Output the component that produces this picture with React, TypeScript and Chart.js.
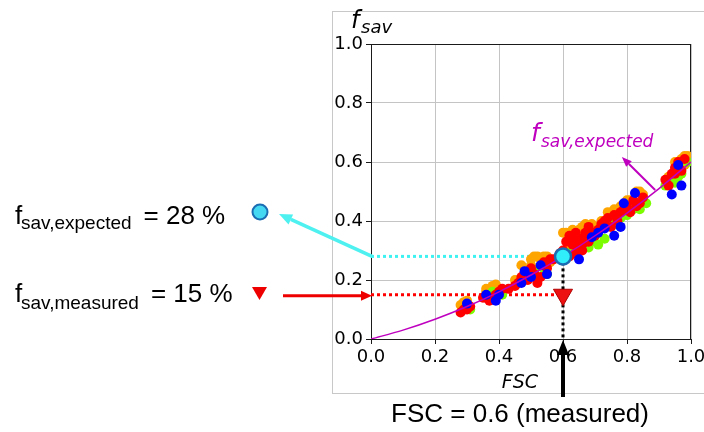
import React, { useEffect, useRef } from "react";
import { Chart, registerables } from "chart.js";

Chart.register(...registerables);

// ---- Data ----
const curveFSC = [0, 0.1, 0.2, 0.3, 0.4, 0.5, 0.6, 0.7, 0.8, 0.9, 1.0];
const curveFsav = [0, 0.03, 0.067, 0.11, 0.16, 0.217, 0.28, 0.35, 0.427, 0.51, 0.6];

const orangeFSC = [0.28, 0.29, 0.30, 0.36, 0.38, 0.39, 0.37, 0.47, 0.50, 0.52, 0.54, 0.49, 0.56, 0.45, 0.61, 0.63, 0.66, 0.69, 0.70, 0.64, 0.62, 0.74, 0.76, 0.83, 0.85, 0.80, 0.97, 0.99, 0.96, 0.93, 0.98,
  0.50, 0.51, 0.53, 0.55, 0.60, 0.65, 0.67, 0.68, 0.72, 0.75, 0.78, 0.81, 0.84, 0.95, 0.98, 0.36, 0.29];
const orangeFsav = [0.115, 0.125, 0.13, 0.17, 0.18, 0.185, 0.16, 0.25, 0.27, 0.28, 0.28, 0.23, 0.26, 0.20, 0.36, 0.37, 0.38, 0.39, 0.38, 0.33, 0.31, 0.43, 0.44, 0.50, 0.49, 0.47, 0.61, 0.62, 0.58, 0.55, 0.59,
  0.25, 0.28, 0.27, 0.28, 0.36, 0.37, 0.39, 0.37, 0.40, 0.42, 0.45, 0.47, 0.50, 0.60, 0.62, 0.16, 0.11];

const redFSC = [0.28, 0.29, 0.31, 0.35, 0.38, 0.40, 0.41, 0.37, 0.45, 0.47, 0.49, 0.51, 0.53, 0.55, 0.56, 0.52, 0.43, 0.46, 0.60, 0.61, 0.62, 0.63, 0.64, 0.65, 0.66, 0.67, 0.68, 0.69, 0.70, 0.62, 0.64, 0.66, 0.68, 0.73, 0.74, 0.75, 0.76, 0.77, 0.78, 0.80, 0.82, 0.84, 0.81, 0.85, 0.94, 0.95, 0.96, 0.97, 0.93, 0.92, 0.98,
  0.48, 0.50, 0.54, 0.57, 0.59, 0.63, 0.65, 0.67, 0.71, 0.72, 0.79, 0.83, 0.96, 0.95, 0.39, 0.36, 0.30];
const redFsav = [0.09, 0.10, 0.11, 0.14, 0.14, 0.16, 0.17, 0.13, 0.18, 0.21, 0.20, 0.22, 0.21, 0.24, 0.27, 0.19, 0.17, 0.19, 0.30, 0.33, 0.35, 0.32, 0.36, 0.34, 0.30, 0.36, 0.33, 0.36, 0.35, 0.28, 0.29, 0.32, 0.38, 0.40, 0.41, 0.38, 0.42, 0.40, 0.43, 0.45, 0.47, 0.46, 0.43, 0.48, 0.56, 0.58, 0.60, 0.57, 0.52, 0.54, 0.61,
  0.22, 0.24, 0.26, 0.27, 0.29, 0.35, 0.32, 0.33, 0.37, 0.39, 0.44, 0.45, 0.58, 0.56, 0.15, 0.14, 0.10];

const blueFSC = [0.30, 0.36, 0.39, 0.40, 0.48, 0.50, 0.53, 0.47, 0.65, 0.69, 0.73, 0.76, 0.78, 0.79, 0.825, 0.94, 0.96, 0.97, 0.55, 0.71];
const blueFsav = [0.12, 0.15, 0.13, 0.15, 0.23, 0.21, 0.25, 0.19, 0.27, 0.345, 0.375, 0.35, 0.38, 0.46, 0.495, 0.49, 0.59, 0.52, 0.22, 0.36];

const greenFSC = [0.29, 0.31, 0.38, 0.41, 0.48, 0.51, 0.54, 0.55, 0.63, 0.65, 0.71, 0.68, 0.73, 0.76, 0.78, 0.82, 0.84, 0.86, 0.96, 0.95, 0.92, 0.99, 0.61, 0.69, 0.80, 0.97];
const greenFsav = [0.10, 0.10, 0.16, 0.15, 0.20, 0.23, 0.24, 0.22, 0.30, 0.31, 0.32, 0.31, 0.34, 0.39, 0.41, 0.44, 0.44, 0.46, 0.55, 0.53, 0.52, 0.60, 0.29, 0.33, 0.42, 0.56];

const measuredFSC = 0.6;
const expectedFsav = 0.28;
const measuredFsav = 0.15;

const tickValues = [0, 0.2, 0.4, 0.6, 0.8, 1.0];

const pts = (xs: number[], ys: number[]) => xs.map((x, i) => ({ x, y: ys[i] }));

function drawArrow(ctx: CanvasRenderingContext2D, x1: number, y1: number, x2: number, y2: number, color: string, lw: number, headLen: number, headW: number) {
  const ang = Math.atan2(y2 - y1, x2 - x1);
  const bx = x2 - headLen * Math.cos(ang);
  const by = y2 - headLen * Math.sin(ang);
  ctx.save();
  ctx.strokeStyle = color;
  ctx.lineWidth = lw;
  ctx.lineCap = "butt";
  ctx.beginPath();
  ctx.moveTo(x1, y1);
  ctx.lineTo(bx, by);
  ctx.stroke();
  ctx.fillStyle = color;
  ctx.beginPath();
  ctx.moveTo(x2, y2);
  ctx.lineTo(bx + (headW / 2) * Math.sin(ang), by - (headW / 2) * Math.cos(ang));
  ctx.lineTo(bx - (headW / 2) * Math.sin(ang), by + (headW / 2) * Math.cos(ang));
  ctx.closePath();
  ctx.fill();
  ctx.restore();
}

function subText(ctx: CanvasRenderingContext2D, x: number, y: number, main: string, sub: string, rest: string, mainFont: string, subFont: string, subX: number, subDy: number, restGap: number, color: string) {
  ctx.save();
  ctx.fillStyle = color;
  ctx.textBaseline = "alphabetic";
  ctx.textAlign = "left";
  ctx.font = mainFont;
  ctx.fillText(main, x, y);
  ctx.font = subFont;
  ctx.fillText(sub, subX, y + subDy);
  const w = ctx.measureText(sub).width;
  if (rest) {
    ctx.font = mainFont;
    ctx.fillText(rest, subX + w + restGap, y);
  }
  ctx.restore();
}

const annotationPlugin = {
  id: "fsavAnnotations",
  beforeDraw(chart: any) {
    const ctx = chart.ctx as CanvasRenderingContext2D;
    ctx.save();
    ctx.fillStyle = "#ffffff";
    ctx.fillRect(0, 0, chart.width, chart.height);
    ctx.strokeStyle = "#c8c8c8";
    ctx.lineWidth = 1;
    ctx.strokeRect(332.5, 11.5, 420, 382);
    ctx.restore();
  },
  beforeDatasetsDraw(chart: any) {
    const ctx = chart.ctx as CanvasRenderingContext2D;
    const a = chart.chartArea;
    ctx.save();
    ctx.strokeStyle = "#1a1a1a";
    ctx.lineWidth = 1;
    ctx.beginPath();
    ctx.moveTo(a.left, a.top + 0.5);
    ctx.lineTo(a.right, a.top + 0.5);
    ctx.moveTo(a.right - 0.5, a.top);
    ctx.lineTo(a.right - 0.5, a.bottom);
    ctx.stroke();
    ctx.restore();
  },
  afterDraw(chart: any) {
    const ctx = chart.ctx as CanvasRenderingContext2D;
    const xs = chart.scales.x;
    const ys = chart.scales.y;
    const px = (v: number) => xs.getPixelForValue(v);
    const py = (v: number) => ys.getPixelForValue(v);

    // y axis title f_sav
    subText(ctx, 351, 28, "f", "sav", "", "italic 24px 'DejaVu Sans'", "italic 18px 'DejaVu Sans'", 361, 5, 0, "#000");
    // x axis title
    ctx.save();
    ctx.fillStyle = "#000";
    ctx.font = "italic 19px 'DejaVu Sans'";
    ctx.textAlign = "center";
    ctx.textBaseline = "alphabetic";
    ctx.fillText("FSC", 520, 388);
    ctx.restore();

    // magenta curve label + arrow
    subText(ctx, 531, 141, "f", "sav,expected", "", "italic 25px 'DejaVu Sans'", "italic 17px 'DejaVu Sans'", 541, 6, 0, "#bf00bf");
    drawArrow(ctx, px(0.888), py(0.505), px(0.784), py(0.617), "#bf00bf", 2, 10, 8);

    // left annotations
    subText(ctx, 15, 224, "f", "sav,expected", "= 28 %", "26px 'Liberation Sans'", "19px 'Liberation Sans'", 21, 5, 12, "#000");
    subText(ctx, 15, 302, "f", "sav,measured", "= 15 %", "26px 'Liberation Sans'", "19px 'Liberation Sans'", 21, 7, 12, "#000");

    // left markers
    ctx.save();
    ctx.beginPath();
    ctx.arc(260, 212, 7.5, 0, Math.PI * 2);
    ctx.fillStyle = "#45d8f2";
    ctx.fill();
    ctx.lineWidth = 2;
    ctx.strokeStyle = "#1b6db3";
    ctx.stroke();
    ctx.beginPath();
    ctx.moveTo(252, 287);
    ctx.lineTo(267, 287);
    ctx.lineTo(259.5, 300);
    ctx.closePath();
    ctx.fillStyle = "#ee0000";
    ctx.fill();
    ctx.restore();

    // cyan arrow from expected level to label
    drawArrow(ctx, px(0) + 1, py(expectedFsav), 279, 214, "#4ef0f0", 3.5, 13, 11);
    // red arrow from label to measured level
    drawArrow(ctx, 283, py(measuredFsav) + 1, px(0) + 1, py(measuredFsav) + 1, "#ee0000", 3, 11, 10);
    // black arrow from text up to measured FSC
    drawArrow(ctx, px(measuredFSC), 397, px(measuredFSC), py(0) + 1, "#000000", 4, 15, 12);

    ctx.save();
    ctx.fillStyle = "#000";
    ctx.font = "26px 'Liberation Sans'";
    ctx.textAlign = "center";
    ctx.textBaseline = "alphabetic";
    ctx.fillText(`FSC = ${measuredFSC.toFixed(1)} (measured)`, 520, 422);
    ctx.restore();
  },
};

export default function App() {
  const ref = useRef<HTMLCanvasElement | null>(null);
  useEffect(() => {
    if (!ref.current) return;
    const scatterDs = (label: string, xs: number[], ys: number[], color: string, order: number) => ({
      type: "scatter" as const,
      label,
      data: pts(xs, ys),
      backgroundColor: color,
      borderWidth: 0,
      pointRadius: 5,
      order,
    });
    const axisCommon = (isX: boolean) => ({
      type: "linear" as const,
      min: 0,
      max: 1,
      afterBuildTicks: (scale: any) => {
        scale.ticks = tickValues.map((v) => ({ value: v }));
      },
      afterFit: (scale: any) => {
        if (isX) scale.height = 30;
        else scale.width = 40;
        scale.paddingLeft = 0;
        scale.paddingRight = 0;
        scale.paddingTop = 0;
        scale.paddingBottom = 0;
      },
      ticks: {
        callback: (v: any) => Number(v).toFixed(1),
        font: { family: "'DejaVu Sans'", size: 18 },
        color: "#000",
        padding: 3,
        maxRotation: 0,
        autoSkip: false,
      },
      grid: {
        color: "#c4c4c4",
        lineWidth: 1,
        tickColor: "#1a1a1a",
        tickLength: 5,
      },
      border: { color: "#1a1a1a", width: 1 },
    });
    const chart = new Chart(ref.current, {
      type: "scatter",
      data: {
        datasets: [
          {
            type: "line",
            label: "measured marker",
            data: [{ x: measuredFSC, y: measuredFsav }],
            showLine: false,
            pointStyle: "triangle",
            rotation: 180,
            pointRadius: 11,
            backgroundColor: "#ee1111",
            borderColor: "#b00000",
            borderWidth: 1,
            order: 0,
          },
          {
            type: "line",
            label: "expected marker",
            data: [{ x: measuredFSC, y: expectedFsav }],
            showLine: false,
            pointStyle: "circle",
            pointRadius: 8,
            backgroundColor: "#30eefa",
            borderColor: "#1b6db3",
            borderWidth: 2.5,
            order: 1,
          },
          {
            type: "line",
            label: "f_sav,expected",
            data: pts(curveFSC, curveFsav),
            borderColor: "#bf00bf",
            borderWidth: 1.5,
            pointRadius: 0,
            cubicInterpolationMode: "monotone",
            order: 2,
          },
          {
            type: "line",
            label: "vertical",
            data: [{ x: measuredFSC, y: expectedFsav }, { x: measuredFSC, y: 0 }],
            borderColor: "#000",
            borderWidth: 3,
            borderDash: [3, 3],
            pointRadius: 0,
            order: 3,
          },
          scatterDs("blue", blueFSC, blueFsav, "#0000ff", 4),
          scatterDs("red", redFSC, redFsav, "#ff0000", 5),
          scatterDs("green", greenFSC, greenFsav, "#7cfc00", 6),
          scatterDs("orange", orangeFSC, orangeFsav, "#ffa500", 7),
          {
            type: "line",
            label: "expected level",
            data: [{ x: 0, y: expectedFsav }, { x: measuredFSC, y: expectedFsav }],
            borderColor: "#3ef2f2",
            borderWidth: 3,
            borderDash: [3, 3],
            pointRadius: 0,
            order: 8,
          },
          {
            type: "line",
            label: "measured level",
            data: [{ x: 0, y: measuredFsav }, { x: measuredFSC, y: measuredFsav }],
            borderColor: "#ff0000",
            borderWidth: 3,
            borderDash: [3, 3],
            pointRadius: 0,
            order: 9,
          },
        ] as any,
      },
      options: {
        responsive: false,
        animation: false,
        devicePixelRatio: 1,
        events: [],
        layout: { padding: { left: 331, right: 13, top: 44, bottom: 63 } },
        plugins: { legend: { display: false }, tooltip: { enabled: false }, title: { display: false } },
        scales: {
          x: axisCommon(true) as any,
          y: axisCommon(false) as any,
        },
      },
      plugins: [annotationPlugin],
    });
    return () => chart.destroy();
  }, []);
  return (
    <div style={{ position: "absolute", left: 0, top: 0, width: 704, height: 432 }}>
      <canvas ref={ref} width={704} height={432} style={{ width: 704, height: 432 }} />
    </div>
  );
}
